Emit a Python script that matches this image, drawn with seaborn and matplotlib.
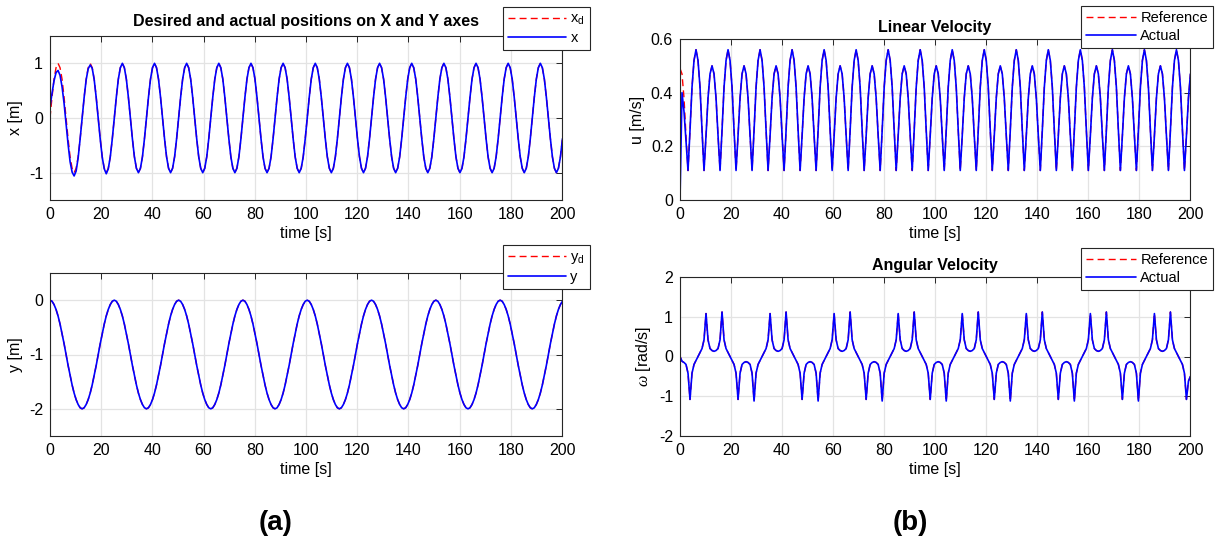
import numpy as np
import matplotlib
matplotlib.use("Agg")
import matplotlib.pyplot as plt
import seaborn as sns

# sample spacing (16 samples per x-period)
dt = 0.785

x_ref = [
    0.0, 0.38, 0.71, 0.92, 1.0, 0.92, 0.71, 0.38, 0.0, -0.38, -0.71, -0.92, -1.0, -0.92, -0.71, -0.38,
    0.0, 0.38, 0.71, 0.92, 1.0, 0.92, 0.71, 0.38, 0.0, -0.38, -0.71, -0.92, -1.0, -0.92, -0.71, -0.38,
    0.0, 0.38, 0.71, 0.92, 1.0, 0.92, 0.71, 0.38, 0.0, -0.38, -0.71, -0.92, -1.0, -0.92, -0.71, -0.38,
    0.0, 0.38, 0.71, 0.92, 1.0, 0.92, 0.71, 0.38, 0.0, -0.38, -0.71, -0.92, -1.0, -0.92, -0.71, -0.38,
    0.0, 0.38, 0.71, 0.92, 1.0, 0.92, 0.71, 0.38, 0.0, -0.38, -0.71, -0.92, -1.0, -0.92, -0.71, -0.38,
    0.0, 0.38, 0.71, 0.92, 1.0, 0.92, 0.71, 0.38, 0.0, -0.38, -0.71, -0.92, -1.0, -0.92, -0.71, -0.38,
    0.0, 0.38, 0.71, 0.92, 1.0, 0.92, 0.71, 0.38, 0.0, -0.38, -0.71, -0.92, -1.0, -0.92, -0.71, -0.38,
    0.0, 0.38, 0.71, 0.92, 1.0, 0.92, 0.71, 0.38, 0.0, -0.38, -0.71, -0.92, -1.0, -0.92, -0.71, -0.38,
    0.0, 0.38, 0.71, 0.92, 1.0, 0.92, 0.71, 0.38, 0.0, -0.38, -0.71, -0.92, -1.0, -0.92, -0.71, -0.38,
    0.0, 0.38, 0.71, 0.92, 1.0, 0.92, 0.71, 0.38, 0.0, -0.38, -0.71, -0.92, -1.0, -0.92, -0.71, -0.38,
    0.0, 0.38, 0.71, 0.92, 1.0, 0.92, 0.71, 0.38, 0.0, -0.38, -0.71, -0.92, -1.0, -0.92, -0.71, -0.38,
    0.0, 0.38, 0.71, 0.92, 1.0, 0.92, 0.71, 0.38, 0.0, -0.38, -0.71, -0.92, -1.0, -0.92, -0.71, -0.38,
    0.0, 0.38, 0.71, 0.92, 1.0, 0.92, 0.71, 0.38, 0.0, -0.38, -0.71, -0.92, -1.0, -0.92, -0.71, -0.38,
    0.0, 0.38, 0.71, 0.92, 1.0, 0.92, 0.71, 0.38, 0.0, -0.38, -0.71, -0.92, -1.0, -0.92, -0.71, -0.38,
    0.0, 0.38, 0.71, 0.92, 1.0, 0.92, 0.71, 0.38, 0.0, -0.38, -0.71, -0.92, -1.0, -0.92, -0.71, -0.38,
    0.0, 0.38, 0.71, 0.92, 1.0, 0.92, 0.71, 0.38, 0.0, -0.38, -0.71, -0.92, -1.0, -0.92, -0.71, -0.38,
]

# actual x only differs during the first two periods
x_act_start = [
    0.2, 0.45, 0.68, 0.83, 0.87, 0.78, 0.57, 0.27, -0.1, -0.48, -0.8, -0.99, -1.06, -0.97, -0.73, -0.38,
    0.0, 0.38, 0.7, 0.9, 0.97, 0.91, 0.7, 0.37, -0.01, -0.39, -0.72, -0.93, -1.02, -0.93, -0.71, -0.38,
]
x_act = x_act_start + x_ref[32:]

y_ref = [
    0.0, -0.02, -0.08, -0.17, -0.29, -0.44, -0.62, -0.8, -1.0, -1.2, -1.38, -1.56, -1.71, -1.83, -1.92, -1.98,
    -2.0, -1.98, -1.92, -1.83, -1.71, -1.56, -1.38, -1.2, -1.0, -0.8, -0.62, -0.44, -0.29, -0.17, -0.08, -0.02,
    0.0, -0.02, -0.08, -0.17, -0.29, -0.44, -0.62, -0.8, -1.0, -1.2, -1.38, -1.56, -1.71, -1.83, -1.92, -1.98,
    -2.0, -1.98, -1.92, -1.83, -1.71, -1.56, -1.38, -1.2, -1.0, -0.8, -0.62, -0.44, -0.29, -0.17, -0.08, -0.02,
    0.0, -0.02, -0.08, -0.17, -0.29, -0.44, -0.62, -0.8, -1.0, -1.2, -1.38, -1.56, -1.71, -1.83, -1.92, -1.98,
    -2.0, -1.98, -1.92, -1.83, -1.71, -1.56, -1.38, -1.2, -1.0, -0.8, -0.62, -0.44, -0.29, -0.17, -0.08, -0.02,
    0.0, -0.02, -0.08, -0.17, -0.29, -0.44, -0.62, -0.8, -1.0, -1.2, -1.38, -1.56, -1.71, -1.83, -1.92, -1.98,
    -2.0, -1.98, -1.92, -1.83, -1.71, -1.56, -1.38, -1.2, -1.0, -0.8, -0.62, -0.44, -0.29, -0.17, -0.08, -0.02,
    0.0, -0.02, -0.08, -0.17, -0.29, -0.44, -0.62, -0.8, -1.0, -1.2, -1.38, -1.56, -1.71, -1.83, -1.92, -1.98,
    -2.0, -1.98, -1.92, -1.83, -1.71, -1.56, -1.38, -1.2, -1.0, -0.8, -0.62, -0.44, -0.29, -0.17, -0.08, -0.02,
    0.0, -0.02, -0.08, -0.17, -0.29, -0.44, -0.62, -0.8, -1.0, -1.2, -1.38, -1.56, -1.71, -1.83, -1.92, -1.98,
    -2.0, -1.98, -1.92, -1.83, -1.71, -1.56, -1.38, -1.2, -1.0, -0.8, -0.62, -0.44, -0.29, -0.17, -0.08, -0.02,
    0.0, -0.02, -0.08, -0.17, -0.29, -0.44, -0.62, -0.8, -1.0, -1.2, -1.38, -1.56, -1.71, -1.83, -1.92, -1.98,
    -2.0, -1.98, -1.92, -1.83, -1.71, -1.56, -1.38, -1.2, -1.0, -0.8, -0.62, -0.44, -0.29, -0.17, -0.08, -0.02,
    0.0, -0.02, -0.08, -0.17, -0.29, -0.44, -0.62, -0.8, -1.0, -1.2, -1.38, -1.56, -1.71, -1.83, -1.92, -1.98,
    -2.0, -1.98, -1.92, -1.83, -1.71, -1.56, -1.38, -1.2, -1.0, -0.8, -0.62, -0.44, -0.29, -0.17, -0.08, -0.02,
]
y_act = list(y_ref)

u_ref = [
    0.49, 0.47, 0.38, 0.24, 0.11, 0.26, 0.42, 0.52, 0.56, 0.52, 0.42, 0.26, 0.11, 0.24, 0.38, 0.47,
    0.5, 0.47, 0.38, 0.24, 0.11, 0.26, 0.42, 0.52, 0.56, 0.52, 0.42, 0.26, 0.11, 0.24, 0.38, 0.47,
    0.5, 0.47, 0.38, 0.24, 0.11, 0.26, 0.42, 0.52, 0.56, 0.52, 0.42, 0.26, 0.11, 0.24, 0.38, 0.47,
    0.5, 0.47, 0.38, 0.24, 0.11, 0.26, 0.42, 0.52, 0.56, 0.52, 0.42, 0.26, 0.11, 0.24, 0.38, 0.47,
    0.5, 0.47, 0.38, 0.24, 0.11, 0.26, 0.42, 0.52, 0.56, 0.52, 0.42, 0.26, 0.11, 0.24, 0.38, 0.47,
    0.5, 0.47, 0.38, 0.24, 0.11, 0.26, 0.42, 0.52, 0.56, 0.52, 0.42, 0.26, 0.11, 0.24, 0.38, 0.47,
    0.5, 0.47, 0.38, 0.24, 0.11, 0.26, 0.42, 0.52, 0.56, 0.52, 0.42, 0.26, 0.11, 0.24, 0.38, 0.47,
    0.5, 0.47, 0.38, 0.24, 0.11, 0.26, 0.42, 0.52, 0.56, 0.52, 0.42, 0.26, 0.11, 0.24, 0.38, 0.47,
    0.5, 0.47, 0.38, 0.24, 0.11, 0.26, 0.42, 0.52, 0.56, 0.52, 0.42, 0.26, 0.11, 0.24, 0.38, 0.47,
    0.5, 0.47, 0.38, 0.24, 0.11, 0.26, 0.42, 0.52, 0.56, 0.52, 0.42, 0.26, 0.11, 0.24, 0.38, 0.47,
    0.5, 0.47, 0.38, 0.24, 0.11, 0.26, 0.42, 0.52, 0.56, 0.52, 0.42, 0.26, 0.11, 0.24, 0.38, 0.47,
    0.5, 0.47, 0.38, 0.24, 0.11, 0.26, 0.42, 0.52, 0.56, 0.52, 0.42, 0.26, 0.11, 0.24, 0.38, 0.47,
    0.5, 0.47, 0.38, 0.24, 0.11, 0.26, 0.42, 0.52, 0.56, 0.52, 0.42, 0.26, 0.11, 0.24, 0.38, 0.47,
    0.5, 0.47, 0.38, 0.24, 0.11, 0.26, 0.42, 0.52, 0.56, 0.52, 0.42, 0.26, 0.11, 0.24, 0.38, 0.47,
    0.5, 0.47, 0.38, 0.24, 0.11, 0.26, 0.42, 0.52, 0.56, 0.52, 0.42, 0.26, 0.11, 0.24, 0.38, 0.47,
    0.5, 0.47, 0.38, 0.24, 0.11, 0.26, 0.42, 0.52, 0.56, 0.52, 0.42, 0.26, 0.11, 0.24, 0.38, 0.47,
]

# actual u starts from rest, then follows the reference
u_act_start = [0.0, 0.4, 0.33, 0.22]
u_act = u_act_start + u_ref[4:]

w_ref = [
    0.0, -0.12, -0.15, -0.2, -0.42,
    -1.08, -0.42, -0.2, -0.1, 0.0, 0.1, 0.2, 0.42, 1.08, 0.42, 0.2, 0.15, 0.13, 0.15, 0.2, 0.42,
    1.12, 0.42, 0.2, 0.1, 0.0, -0.1, -0.2, -0.42, -1.08, -0.42, -0.2, -0.15, -0.13, -0.15, -0.2, -0.42,
    -1.12, -0.42, -0.2, -0.1, 0.0, 0.1, 0.2, 0.42, 1.08, 0.42, 0.2, 0.15, 0.13, 0.15, 0.2, 0.42,
    1.12, 0.42, 0.2, 0.1, 0.0, -0.1, -0.2, -0.42, -1.08, -0.42, -0.2, -0.15, -0.13, -0.15, -0.2, -0.42,
    -1.12, -0.42, -0.2, -0.1, 0.0, 0.1, 0.2, 0.42, 1.08, 0.42, 0.2, 0.15, 0.13, 0.15, 0.2, 0.42,
    1.12, 0.42, 0.2, 0.1, 0.0, -0.1, -0.2, -0.42, -1.08, -0.42, -0.2, -0.15, -0.13, -0.15, -0.2, -0.42,
    -1.12, -0.42, -0.2, -0.1, 0.0, 0.1, 0.2, 0.42, 1.08, 0.42, 0.2, 0.15, 0.13, 0.15, 0.2, 0.42,
    1.12, 0.42, 0.2, 0.1, 0.0, -0.1, -0.2, -0.42, -1.08, -0.42, -0.2, -0.15, -0.13, -0.15, -0.2, -0.42,
    -1.12, -0.42, -0.2, -0.1, 0.0, 0.1, 0.2, 0.42, 1.08, 0.42, 0.2, 0.15, 0.13, 0.15, 0.2, 0.42,
    1.12, 0.42, 0.2, 0.1, 0.0, -0.1, -0.2, -0.42, -1.08, -0.42, -0.2, -0.15, -0.13, -0.15, -0.2, -0.42,
    -1.12, -0.42, -0.2, -0.1, 0.0, 0.1, 0.2, 0.42, 1.08, 0.42, 0.2, 0.15, 0.13, 0.15, 0.2, 0.42,
    1.12, 0.42, 0.2, 0.1, 0.0, -0.1, -0.2, -0.42, -1.08, -0.42, -0.2, -0.15, -0.13, -0.15, -0.2, -0.42,
    -1.12, -0.42, -0.2, -0.1, 0.0, 0.1, 0.2, 0.42, 1.08, 0.42, 0.2, 0.15, 0.13, 0.15, 0.2, 0.42,
    1.12, 0.42, 0.2, 0.1, 0.0, -0.1, -0.2, -0.42, -1.08, -0.42, -0.2, -0.15, -0.13, -0.15, -0.2, -0.42,
    -1.12, -0.42, -0.2, -0.1, 0.0, 0.1, 0.2, 0.42, 1.08, 0.42, 0.2, 0.15, 0.13, 0.15, 0.2, 0.42,
    1.12, 0.42, 0.2, 0.1, 0.0, -0.1, -0.2, -0.42, -1.08, -0.62, -0.5,
]
w_act = list(w_ref)

time_ticks = list(range(0, 201, 20))
u_ticks = [0, 0.2, 0.4, 0.6]
u_tick_labels = ["0", "0.2", "0.4", "0.6"]

RED = "#ff0000"
BLUE = "#0000ff"
AX_COLOR = "#262626"


def style_axes(ax, ylim, yticks, ylabel):
    ax.set_xlim(0, 200)
    ax.set_ylim(*ylim)
    ax.set_xticks(time_ticks)
    ax.set_yticks(yticks)
    ax.set_xlabel("time [s]", fontsize=11.5, labelpad=3, color="black")
    ax.set_ylabel(ylabel, fontsize=11.5, labelpad=4, color="black")
    ax.grid(True, color="#e3e3e3", linewidth=0.9)
    ax.set_axisbelow(True)
    ax.tick_params(direction="in", top=True, right=True, length=4, width=0.7,
                   colors=AX_COLOR, labelsize=11.5, labelcolor="black", pad=5)
    for sp in ax.spines.values():
        sp.set_color(AX_COLOR)
        sp.set_linewidth(0.8)


def draw_pair(ax, ref, act, labels):
    t = np.arange(len(ref)) * dt
    sns.lineplot(x=t, y=ref, ax=ax, color=RED, linestyle="--", linewidth=1.0,
                 label=labels[0], estimator=None, sort=False)
    t2 = np.arange(len(act)) * dt
    sns.lineplot(x=t2, y=act, ax=ax, color=BLUE, linewidth=1.2,
                 label=labels[1], estimator=None, sort=False)


def add_legend(ax, anchor, hlen, fs=10.5):
    leg = ax.legend(loc="upper right", bbox_to_anchor=anchor, bbox_transform=ax.figure.transFigure,
                    fontsize=fs, handlelength=hlen, frameon=True, fancybox=False,
                    framealpha=1, edgecolor=AX_COLOR, borderaxespad=0, borderpad=0.35,
                    labelspacing=0.25, handletextpad=0.3)
    leg.get_frame().set_linewidth(0.8)
    for txt in leg.get_texts():
        txt.set_color("black")


def main():
    sns.set_theme(style="white")
    plt.rcParams["font.family"] = ["Liberation Sans", "DejaVu Sans"]
    plt.rcParams["text.color"] = "black"
    plt.rcParams["axes.labelcolor"] = "black"
    plt.rcParams["axes.unicode_minus"] = False
    plt.rcParams["lines.dashed_pattern"] = [5, 3]
    plt.rcParams["mathtext.fontset"] = "custom"
    plt.rcParams["mathtext.rm"] = "Liberation Sans"
    plt.rcParams["mathtext.it"] = "Liberation Serif:italic"

    W, H = 1219, 548
    fig = plt.figure(figsize=(W / 100, H / 100), dpi=100)

    def frac(l, t, r, b):
        return [l / W, 1 - b / H, (r - l) / W, (b - t) / H]

    ax_x = fig.add_axes(frac(50, 36, 562, 200))
    ax_y = fig.add_axes(frac(50, 273, 562, 436))
    ax_u = fig.add_axes(frac(680, 39, 1190, 200))
    ax_w = fig.add_axes(frac(680, 277, 1190, 436))

    draw_pair(ax_x, x_ref, x_act, ["x$_\\mathrm{d}$", "x"])
    style_axes(ax_x, (-1.5, 1.5), [-1, 0, 1], "x [m]")
    ax_x.set_title("Desired and actual positions on X and Y axes", fontsize=11.5,
                   fontweight="bold", pad=7, color="black")
    add_legend(ax_x, (590 / W, 1 - 7 / H), 4.0)

    draw_pair(ax_y, y_ref, y_act, ["y$_\\mathrm{d}$", "y"])
    style_axes(ax_y, (-2.5, 0.5), [-2, -1, 0], "y [m]")
    add_legend(ax_y, (590 / W, 1 - 245 / H), 4.0)

    draw_pair(ax_u, u_ref, u_act, ["Reference", "Actual"])
    style_axes(ax_u, (0, 0.6), u_ticks, "u [m/s]")
    ax_u.set_yticklabels(u_tick_labels)
    ax_u.set_title("Linear Velocity", fontsize=11.5, fontweight="bold", pad=5, color="black")
    add_legend(ax_u, (1213 / W, 1 - 6 / H), 3.4)

    draw_pair(ax_w, w_ref, w_act, ["Reference", "Actual"])
    style_axes(ax_w, (-2, 2), [-2, -1, 0, 1, 2], "$\\mathit{\\omega}$ [rad/s]")
    ax_w.set_title("Angular Velocity", fontsize=11.5, fontweight="bold", pad=5, color="black")
    add_legend(ax_w, (1213 / W, 1 - 248 / H), 3.4)

    fig.text(276 / W, 1 - 523 / H, "(a)", fontsize=20, fontweight="bold",
             ha="center", va="center", color="black")
    fig.text(910 / W, 1 - 523 / H, "(b)", fontsize=20, fontweight="bold",
             ha="center", va="center", color="black")

    fig.savefig("out.png", dpi=100)


if __name__ == "__main__":
    main()
